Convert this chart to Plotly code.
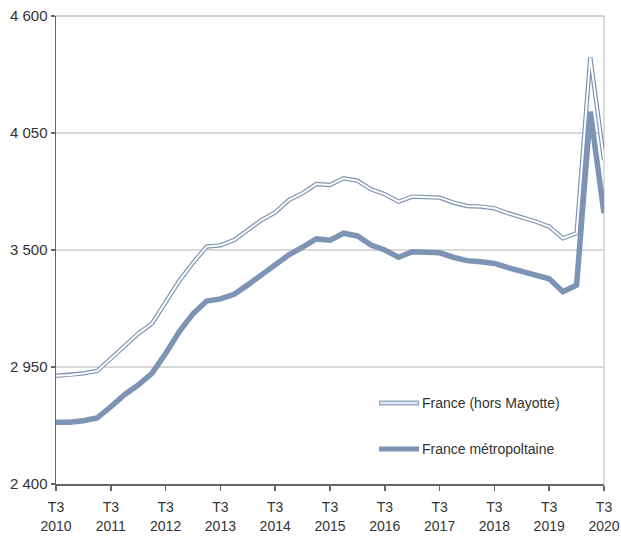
import plotly.graph_objects as go

quarters = []
for y in range(2010, 2021):
    for q in (1, 2, 3, 4):
        if (y == 2010 and q < 3) or (y == 2020 and q > 3):
            continue
        quarters.append(f"T{q} {y}")

france_hors_mayotte = [2909, 2912, 2920, 2931, 2989, 3046, 3107, 3154, 3257, 3355,
                       3440, 3516, 3522, 3547, 3594, 3641, 3677, 3735, 3767, 3810,
                       3806, 3837, 3826, 3785, 3762, 3727, 3751, 3748, 3746, 3723,
                       3707, 3704, 3696, 3673, 3654, 3634, 3610, 3555, 3579, 4406, 3923]
france_metro = [2690, 2690, 2697, 2710, 2763, 2820, 2865, 2920, 3013, 3117,
                3200, 3260, 3270, 3292, 3336, 3383, 3425, 3477, 3514, 3552,
                3546, 3579, 3566, 3523, 3500, 3466, 3492, 3489, 3487, 3466,
                3450, 3445, 3437, 3417, 3401, 3385, 3365, 3304, 3335, 4150, 3673]

y_ticks = [2400, 2950, 3500, 4050, 4600]
y_ticktext = ["2 400", "2 950", "3 500", "4 050", "4 600"]
x_tickvals = [q for q in quarters if q.startswith("T3")]
x_ticktext = [q.replace(" ", "<br>") for q in x_tickvals]

series_names = ["France (hors Mayotte)", "France métropoltaine"]

COL = "#7d94b5"
FONT = "Liberation Sans Narrow, Arial Narrow, Liberation Sans, Arial, sans-serif"

fig = go.Figure()
fig.add_trace(go.Scatter(x=quarters, y=france_metro, mode="lines",
                         line=dict(color=COL, width=5.5), name=series_names[1],
                         showlegend=False))
fig.add_trace(go.Scatter(x=quarters, y=france_hors_mayotte, mode="lines",
                         line=dict(color=COL, width=4.4), name=series_names[0],
                         showlegend=False))
fig.add_trace(go.Scatter(x=quarters, y=france_hors_mayotte, mode="lines",
                         line=dict(color="white", width=2), showlegend=False,
                         hoverinfo="skip"))

W, H = 621, 540
PL, PR, PT, PB = 56, 604, 16, 484  # plot area in screen pixels
L, T = PL, PT
R = W - PR
B = H - PB
pw, ph = PR - PL, PB - PT

def px_x(x):
    return (x - PL) / pw

def px_y(y):
    return (PB - y) / ph

shapes = [
    dict(type="line", xref="paper", yref="paper", x0=1, x1=1, y0=0, y1=1,
         line=dict(color="#d0d0d0", width=1.5), layer="below"),
    dict(type="line", xref="paper", yref="paper", x0=0, x1=1, y0=1, y1=1,
         line=dict(color="#d0d0d0", width=1.8), layer="below"),
    # legend samples
    dict(type="line", xref="paper", yref="paper", x0=px_x(379), x1=px_x(419),
         y0=px_y(403), y1=px_y(403), line=dict(color="#8ea2bf", width=5)),
    dict(type="line", xref="paper", yref="paper", x0=px_x(380), x1=px_x(418),
         y0=px_y(403), y1=px_y(403), line=dict(color="#dfe5ee", width=2.4)),
    dict(type="line", xref="paper", yref="paper", x0=px_x(379), x1=px_x(419),
         y0=px_y(449), y1=px_y(449), line=dict(color=COL, width=5)),
]
annotations = [
    dict(xref="paper", yref="paper", x=px_x(420), y=px_y(403), text=series_names[0],
         showarrow=False, xanchor="left", yanchor="middle",
         font=dict(family=FONT, size=14, color="#333333")),
    dict(xref="paper", yref="paper", x=px_x(420), y=px_y(449), text=series_names[1],
         showarrow=False, xanchor="left", yanchor="middle",
         font=dict(family=FONT, size=14, color="#333333")),
]

fig.update_layout(
    width=W, height=H,
    margin=dict(l=L, r=R, t=T, b=B),
    paper_bgcolor="white", plot_bgcolor="white",
    font=dict(family=FONT, size=15, color="#333333"),
    shapes=shapes, annotations=annotations,
    showlegend=False,
)
fig.update_xaxes(type="category", range=[0, len(quarters) - 1], automargin=False,
                 tickmode="array", tickvals=x_tickvals, ticktext=x_ticktext,
                 showgrid=False, showline=True, linecolor="#666666", linewidth=1.5,
                 ticks="outside", ticklen=5, tickcolor="#666666", tickwidth=1.5,
                 ticklabelstandoff=5, ticklabeloverflow="allow",
                 tickfont=dict(family=FONT, size=14, color="#333333"), zeroline=False)
fig.update_yaxes(range=[2400, 4600], tickmode="array", tickvals=y_ticks, automargin=False,
                 ticktext=y_ticktext, showgrid=True, gridcolor="#d9d9d9", gridwidth=1.8,
                 showline=True, linecolor="#666666", linewidth=1.5,
                 ticks="outside", ticklen=4, tickcolor="#666666", tickwidth=1.5,
                 ticklabeloverflow="allow",
                 tickfont=dict(family=FONT, size=15, color="#333333"), zeroline=False)

page_css = ("document.documentElement.style.margin='0';"
            "document.documentElement.style.overflow='hidden';"
            "document.body.style.margin='0';"
            "document.body.style.overflow='hidden';")

fig.write_html("out.html", post_script=page_css,
               config={"displayModeBar": False, "staticPlot": True})
